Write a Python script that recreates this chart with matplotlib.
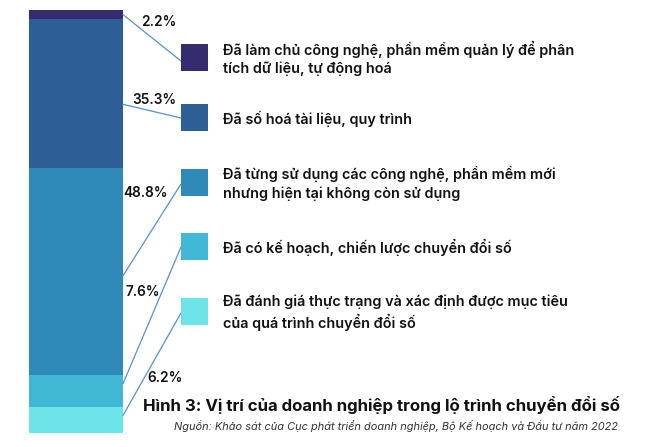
import matplotlib
matplotlib.use("Agg")
import matplotlib.pyplot as plt
from matplotlib.patches import Rectangle, ConnectionPatch

# ---- data ----
categories = [
    "Đã làm chủ công nghệ, phần mềm quản lý để phân\ntích dữ liệu, tự động hoá",
    "Đã số hoá tài liệu, quy trình",
    "Đã từng sử dụng các công nghệ, phần mềm mới\nnhưng hiện tại không còn sử dụng",
    "Đã có kế hoạch, chiến lược chuyển đổi số",
    "Đã đánh giá thực trạng và xác định được mục tiêu\ncủa quá trình chuyển đổi số",
]
values = [2.2, 35.3, 48.8, 7.6, 6.2]
value_labels = ["2.2%", "35.3%", "48.8%", "7.6%", "6.2%"]
colors = ["#342c6f", "#2e5e96", "#2e8bb9", "#41b8d6", "#6ce4e8"]
title = "Hình 3: Vị trí của doanh nghiệp trong lộ trình chuyển đổi số"
source = "Nguồn: Khảo sát của Cục phát triển doanh nghiệp, Bộ Kế hoạch và Đầu tư năm 2022"

W, H = 670, 447
FONT = ["Inter", "DejaVu Sans"]
plt.rcParams['font.family'] = FONT

fig = plt.figure(figsize=(W / 100, H / 100), dpi=100)

def fx(px):
    return px / W

def fy(py):
    return 1 - py / H

# bar axes
bar_top, bar_bot = 10, 433
ax = fig.add_axes([fx(29), fy(bar_bot), fx(123) - fx(29), (bar_bot - bar_top) / H])
total = sum(values)
# stack bottom to top: last category at bottom
anchor_frac = [0.5, 0.43, 0.48, 0.72, 0.67]  # fraction from segment bottom where leader starts
bottom = 0.0
anchors = {}
for i in range(len(values) - 1, -1, -1):
    ax.bar(0.5, values[i], width=1.0, bottom=bottom, color=colors[i], linewidth=0)
    anchors[i] = bottom + values[i] * anchor_frac[i]
    bottom += values[i]
ax.set_xlim(0, 1)
ax.set_ylim(0, total)
ax.axis("off")

# legend squares, texts, connecting lines, labels
sq_tops = [44, 104, 169, 233, 298]
sq_size = 27
sq_x = 181
text_x = 223
end_off = [17, 14, 15, 14, 15]
label_pos = [(159, 22), (154, 100), (146, 193), (143, 292), (165, 378)]
for i, cat in enumerate(categories):
    top = sq_tops[i]
    fig.patches.append(Rectangle((fx(sq_x), fy(top + sq_size)), sq_size / W, sq_size / H,
                                 transform=fig.transFigure, color=colors[i], linewidth=0))
    fig.text(fx(text_x), fy(top + sq_size / 2 + 1), cat, ha="left", va="center",
             fontsize=10.4, fontweight="semibold", color="#111111", linespacing=1.35)
    con = ConnectionPatch(xyA=(1.0, anchors[i]), coordsA=ax.transData,
                          xyB=(fx(sq_x), fy(top + end_off[i])), coordsB=fig.transFigure,
                          color="#5a8fd0", linewidth=0.9)
    fig.add_artist(con)
    lx, ly = label_pos[i]
    fig.text(fx(lx), fy(ly), value_labels[i], ha="center", va="center",
             fontsize=9.8, fontweight="semibold", color="#111111")

fig.text(fx(381), fy(405), title, ha="center", va="center", fontsize=12.1,
         fontweight="bold", color="#111111")
fig.text(fx(618), fy(426), source, ha="right", va="center", fontsize=7.9,
         style="italic", color="#333333")

fig.savefig("out.png", dpi=100)
